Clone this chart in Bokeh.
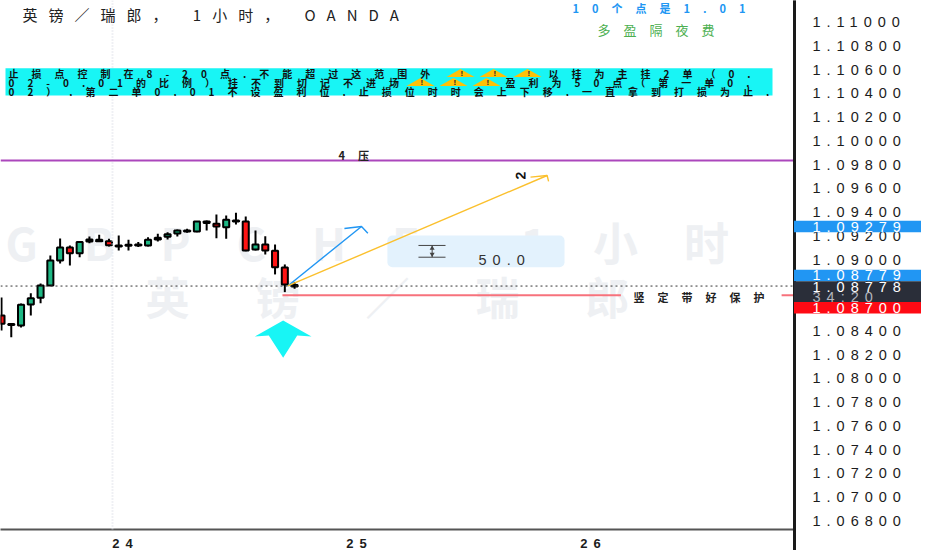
from bokeh.plotting import figure
from bokeh.layouts import column
from bokeh.models import Range1d, FixedTicker, NumeralTickFormatter, Span
from bokeh.core.properties import value
from bokeh.embed import file_html
from bokeh.resources import INLINE

# Candles (hourly) : open / high / low / close
opens = [1.08530,1.08450,1.08446,1.08623,1.08679,1.08783,1.08993,1.09103,1.09055,1.09153,1.09156,
         1.09156,1.09120,1.09117,1.09120,1.09120,1.09170,1.09193,1.09221,1.09238,1.09238,1.09322,
         1.09303,1.09274,1.09322,1.09322,1.09086,1.09128,1.09075,1.08935,1.08786]
highs = [1.08682,1.08463,1.08631,1.08718,1.08800,1.09036,1.09179,1.09120,1.09148,1.09196,1.09210,
         1.09176,1.09204,1.09168,1.09148,1.09190,1.09218,1.09232,1.09255,1.09260,1.09324,1.09330,
         1.09381,1.09372,1.09395,1.09364,1.09246,1.09198,1.09128,1.08960,1.08811]
lows = [1.08404,1.08347,1.08429,1.08530,1.08634,1.08783,1.08968,1.08951,1.09021,1.09139,1.09148,
        1.09111,1.09078,1.09078,1.09106,1.09111,1.09153,1.09170,1.09196,1.09227,1.09232,1.09246,
        1.09181,1.09176,1.09297,1.09072,1.09078,1.09044,1.08876,1.08727,1.08755]
closes = [1.08460,1.08459,1.08620,1.08676,1.08783,1.08993,1.09103,1.09055,1.09148,1.09170,1.09168,
          1.09122,1.09111,1.09126,1.09128,1.09168,1.09185,1.09215,1.09246,1.09246,1.09322,1.09308,
          1.09280,1.09336,1.09330,1.09078,1.09128,1.09078,1.08937,1.08791,1.08775]
bars = list(range(len(opens)))

day_labels = ["24", "25", "26"]
day_ticks = [12.08, 36.03, 59.98]
price_ticks = [1.068 + 0.002 * k for k in range(22)]

resistance = 1.09835
stop_level = 1.08700
last_price = 1.08778

blue_x = [35.1, 36.85, 37.5]
blue_y = [1.09263, 1.09280, 1.09223]
gold_x = [54.15, 55.85, 56.0]
gold_y = [1.09695, 1.09709, 1.09659]
start_x, start_y = 29.3, 1.08779

arrow_x = [28.83, 31.73, 30.27, 28.83, 27.36, 25.93]
arrow_y = [1.08488, 1.08353, 1.08361, 1.08174, 1.08361, 1.08353]

# Price tags: their text, and the place on the scale where each sits after being pushed apart
tag_text = ["1.09279", "1.08779", "1.08778", "1.08700"]
tag_y = [1.09279, 1.08867, 1.08774, 1.08595]
tag_box_y = [1.09279, 1.08867, 1.08730, 1.08595]
tag_box_h = [11.6, 11.4, 21, 11.4]
tag_colors = ["#2196f3", "#2196f3", "#2a2e39", "#ff0a14"]

X0, X1 = -0.102, 81.17
Y_TOP, Y_BOT = 1.111827, 1.06728
Y_PAGE_BOT = 1.06551
CJK = value("Noto Sans CJK SC")
SANS = value("Liberation Sans")


def layer(spacing, first=False, x_range=(0, 932), y_range=(550, 0)):
    f = figure(width=932, height=550, x_range=Range1d(*x_range), y_range=Range1d(*y_range),
               min_border=0, toolbar_location=None, output_backend="svg",
               x_axis_location=None, y_axis_location=None, outline_line_color=None,
               background_fill_color="white" if first else None,
               border_fill_color="white" if first else None,
               margin=(0, 0, 0, 0) if first else (-550, 0, 0, 0))
    f.grid.visible = False
    f.frame_align = False
    f.styles = {"letter-spacing": f"{spacing}px"}
    return f


# Watermarks, behind everything
wm1 = layer(46, first=True)
wm1.text([5], [241], text=["GBPCHF 1小时"], text_font=CJK, text_font_size="45px", text_font_style="bold",
         text_color="#eef0f3", text_baseline="middle", text_align="left")
wm2 = layer(66)
wm2.text([145], [295], text=["英镑／瑞郎"], text_font=CJK, text_font_size="44px", text_font_style="bold",
         text_color="#eef0f3", text_baseline="middle", text_align="left")

# Main chart
p = figure(width=932, height=550, x_range=Range1d(X0, X1), y_range=Range1d(Y_BOT, Y_TOP),
           min_border_left=0, min_border_right=138, min_border_top=0, min_border_bottom=21,
           toolbar_location=None, output_backend="svg", y_axis_location="right",
           outline_line_color=None, background_fill_color=None, border_fill_color=None,
           margin=(-550, 0, 0, 0))
p.frame_align = False
p.styles = {"letter-spacing": "6px"}
p.grid.visible = False
p.yaxis.ticker = FixedTicker(ticks=price_ticks)
p.yaxis.formatter = NumeralTickFormatter(format="0.00000")
p.yaxis.major_tick_line_color = None
p.yaxis.minor_tick_line_color = None
p.yaxis.axis_line_color = "#1a1a1a"
p.yaxis.axis_line_width = 3
p.yaxis.major_label_standoff = 12
p.yaxis.major_label_text_font = "Liberation Sans"
p.yaxis.major_label_text_font_size = "14.5px"
p.yaxis.major_label_text_color = "#1c1c1c"
p.xaxis.ticker = FixedTicker(ticks=day_ticks)
p.xaxis.major_label_overrides = dict(zip(day_ticks, day_labels))
p.xaxis.major_tick_line_color = None
p.xaxis.minor_tick_line_color = None
p.xaxis.axis_line_color = "#555555"
p.xaxis.axis_line_width = 2
p.xaxis.major_label_standoff = 3
p.xaxis.major_label_text_font = "Liberation Sans"
p.xaxis.major_label_text_font_size = "13px"
p.xaxis.major_label_text_font_style = "bold"
p.xaxis.major_label_text_color = "#1c1c1c"

p.add_layout(Span(location=11.36, dimension="height", line_color="#dfe2ea", line_width=2, line_dash="1 2"))
p.add_layout(Span(location=resistance, dimension="width", line_color="#ab47bc", line_width=2))
p.add_layout(Span(location=last_price, dimension="width", line_color="#333333", line_width=1, line_dash="2 3"))

# 50.0 measurement box (below candles and arrows)
p.quad(left=[39.5], right=[57.63], bottom=[1.08937], top=[1.09204], fill_color="#e3f2fd",
       line_color=None, border_radius=5)
p.segment([42.68, 42.68], [1.09120, 1.09021], [45.45, 45.45], [1.09120, 1.09021], line_color="#444444", line_width=1)
p.segment([44.08], [1.09120], [44.08], [1.09021], line_color="#444444", line_width=1)
p.scatter([44.08], [1.09095], marker="triangle", size=5, fill_color="#444444", line_color=None)
p.scatter([44.08], [1.09046], marker="inverted_triangle", size=5, fill_color="#444444", line_color=None)

# Candles
p.segment(bars, highs, bars, lows, line_color="black", line_width=2)
colors = ["#1db784" if c >= o else "#ff1414" for o, c in zip(opens, closes)]
p.vbar(x=bars, width=0.62, bottom=[min(a, b) for a, b in zip(opens, closes)],
       top=[max(a, b) for a, b in zip(opens, closes)], fill_color=colors,
       line_color="black", line_width=2)

# Stop line with gap for its label
p.segment([28.76, 79.85], [stop_level] * 2, [63.4, X1], [stop_level] * 2, line_color="#f7727c", line_width=2)

# Drawn arrows
p.line([start_x, blue_x[1]], [start_y, blue_y[1]], line_color="#2196f3", line_width=1.4)
p.line(blue_x, blue_y, line_color="#2196f3", line_width=1.4)
p.line([start_x, gold_x[1]], [start_y, gold_y[1]], line_color="#fbc02d", line_width=1.4)
p.line(gold_x, gold_y, line_color="#fbc02d", line_width=1.4)
p.patch(arrow_x, arrow_y, fill_color="#18f5f5", line_color=None)

# Price tags, on the price scale
pills = layer(6, y_range=(Y_PAGE_BOT, Y_TOP))
pills.segment([794], [Y_TOP], [794], [Y_PAGE_BOT], line_color="#1a1a1a", line_width=3)
pills.rect([857] * 4, tag_box_y, width=127, height=tag_box_h, height_units="screen",
           fill_color=tag_colors, line_color=None)
pills.text([812] * 4, tag_y, text=tag_text, text_font=SANS,
           text_font_size="14.5px", text_color="white", text_baseline="middle", text_align="left")
pills.text([812], [1.08690], text=["34:20"], text_font=SANS, text_font_size="14.5px",
           text_color="#b2b5be", text_baseline="middle", text_align="left")
pills.text([478], [1.09000], text=["50.0"], text_font=SANS, text_font_size="14.5px",
           text_color="#333333", text_baseline="middle", text_align="left")

# Wide-set text
t = layer(13)
t.quad(left=[5], right=[772], top=[67.7], bottom=[95], fill_color="#18f5f5", line_color=None)
warn_x = [460, 493, 527, 420, 453, 486]
warn_y = [72.5, 72.5, 72.5, 81.5, 81.5, 81.5]
t.patches([[x - 14, x, x + 14] for x in warn_x], [[y + 4, y - 4, y + 4] for y in warn_y],
          fill_color="#ffc107", line_color=None)
t.text(warn_x, [y + 0.5 for y in warn_y], text=["!"] * 6, text_font=SANS, text_font_size="8px",
       text_font_style="bold", text_color="#222222", text_baseline="middle", text_align="left")
for x, y, s in [(8, 73, "止损点控制在8-20点.不能超过这范围外"), (548, 73, "以挂为主挂2单（0."),
                (8, 81.7, "02-0.01的比例）挂不到切记不进场"), (505, 81.7, "盈利为50点（第一单0."),
                (8, 90.7, "02）.第二单0.01不设盈利位.止损位时时会上下移.一直拿到打损为止.")]:
    t.text([x], [y], text=[s], text_font=CJK, text_font_size="10px", text_font_style="bold",
           text_color="#111111", text_baseline="middle", text_align="left")
t.text([572], [7], text=["10个点是1.01"], text_font=CJK, text_font_size="11px", text_font_style="bold",
       text_color="#2196f3", text_baseline="middle", text_align="left")
t.text([597], [29], text=["多盈隔夜费"], text_font=CJK, text_font_size="13px",
       text_color="#4caf50", text_baseline="middle", text_align="left")
t.text([338], [154], text=["4压"], text_font=CJK, text_font_size="11px", text_font_style="bold",
       text_color="#222222", text_baseline="middle", text_align="left")
t.text([633], [296], text=["竖定带好保护"], text_font=CJK, text_font_size="11px", text_font_style="bold",
       text_color="#222222", text_baseline="middle", text_align="left")
t.text([520], [175], text=["2"], text_font=SANS, text_font_size="14px", text_font_style="bold",
       text_color="#111111", text_baseline="middle", text_align="center", angle=1.57)

title = layer(11)
title.text([22], [14], text=["英镑／瑞郎， 1小时， OANDA"], text_font=CJK, text_font_size="15px",
           text_color="#222222", text_baseline="middle", text_align="left")

root = column(wm1, wm2, p, pills, t, title, spacing=0)
open("out.html", "w").write(file_html(root, INLINE))
